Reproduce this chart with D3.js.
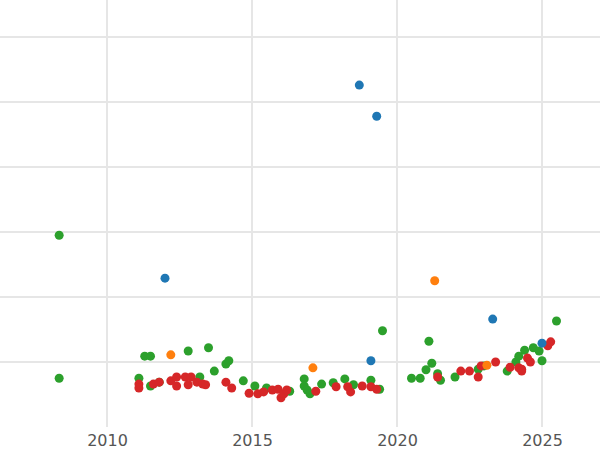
<!DOCTYPE html>
<html><head><meta charset="utf-8">
<script src="https://cdn.jsdelivr.net/npm/d3@7"></script>
<style>body{margin:0;background:#fff}</style></head>
<body><svg id="c" width="600" height="450"></svg>
<script>
const xTicks=[2010,2015,2020,2025];
const yTicks=[1,2,3,4,5,6];
const greenPts=[[2008.35,2.95],[2008.35,0.75],[2011.1,0.75],[2011.3,1.09],[2011.5,1.09],[2011.5,0.63],[2011.8,0.69],[2012.8,1.17],[2013.2,0.77],[2013.5,1.22],[2013.7,0.86],[2014.1,0.97],[2014.2,1.02],[2014.7,0.71],[2015.1,0.63],[2015.5,0.60],[2016.3,0.55],[2016.8,0.74],[2016.8,0.63],[2016.9,0.57],[2017.0,0.51],[2017.4,0.66],[2017.8,0.68],[2018.2,0.74],[2018.5,0.65],[2019.1,0.72],[2019.4,0.58],[2019.5,1.48],[2020.5,0.75],[2020.8,0.75],[2021.0,0.88],[2021.1,1.32],[2021.2,0.98],[2021.4,0.82],[2021.5,0.72],[2022.0,0.77],[2022.8,0.89],[2023.8,0.86],[2024.1,1.0],[2024.2,1.09],[2024.4,1.18],[2024.7,1.22],[2024.9,1.17],[2025.0,1.02],[2025.5,1.63],[2023.0,0.94]];
const redPts=[[2011.1,0.66],[2011.1,0.60],[2011.6,0.66],[2011.8,0.69],[2012.2,0.71],[2012.4,0.77],[2012.4,0.63],[2012.7,0.77],[2012.8,0.65],[2012.9,0.77],[2013.1,0.69],[2013.3,0.66],[2013.4,0.65],[2014.1,0.69],[2014.3,0.60],[2014.9,0.52],[2015.2,0.51],[2015.4,0.54],[2015.7,0.57],[2015.9,0.58],[2016.0,0.45],[2016.1,0.51],[2016.2,0.57],[2017.2,0.55],[2017.9,0.62],[2018.4,0.54],[2018.3,0.62],[2018.8,0.63],[2019.1,0.62],[2019.3,0.58],[2021.4,0.77],[2022.2,0.86],[2022.5,0.86],[2022.8,0.77],[2022.9,0.94],[2023.4,1.0],[2023.9,0.92],[2024.2,0.91],[2024.3,0.89],[2024.5,1.06],[2024.6,1.0],[2025.2,1.25],[2025.3,1.31],[2024.3,0.86]];
const bluePts=[[2012.0,2.29],[2018.7,5.26],[2019.3,4.78],[2019.1,1.02],[2023.3,1.66],[2025.0,1.29]];
const orangePts=[[2012.2,1.11],[2017.1,0.91],[2021.3,2.25],[2023.1,0.95]];
const svg=d3.select("#c");
const x=d3.scaleLinear().domain([2006.31,2027.0]).range([0,600]);
const y=d3.scaleLinear().domain([0,6]).range([427,37]);
const g=svg.append("g");
g.selectAll(".yg").data(yTicks).join("line").attr("x1",0).attr("x2",600).attr("y1",d=>y(d)).attr("y2",d=>y(d)).attr("stroke","#e6e6e6").attr("stroke-width",2);
g.selectAll(".xg").data(xTicks).join("line").attr("y1",0).attr("y2",427).attr("x1",d=>x(d)).attr("x2",d=>x(d)).attr("stroke","#e6e6e6").attr("stroke-width",2);
const ax=svg.append("g").attr("transform","translate(0,427)").call(d3.axisBottom(x).tickValues(xTicks).tickFormat(d3.format("d")).tickSize(0).tickPadding(8));
ax.select(".domain").remove();
ax.selectAll("text").attr("font-family","DejaVu Sans, sans-serif").attr("font-size",16).attr("fill","#555");
[[greenPts,"#2ca02c"],[redPts,"#d62728"],[bluePts,"#1f77b4"],[orangePts,"#ff7f0e"]].forEach(([pts,c])=>{
svg.append("g").selectAll("circle").data(pts).join("circle").attr("cx",d=>x(d[0])).attr("cy",d=>y(d[1])).attr("r",4.5).attr("fill",c);
});
</script></body></html>
